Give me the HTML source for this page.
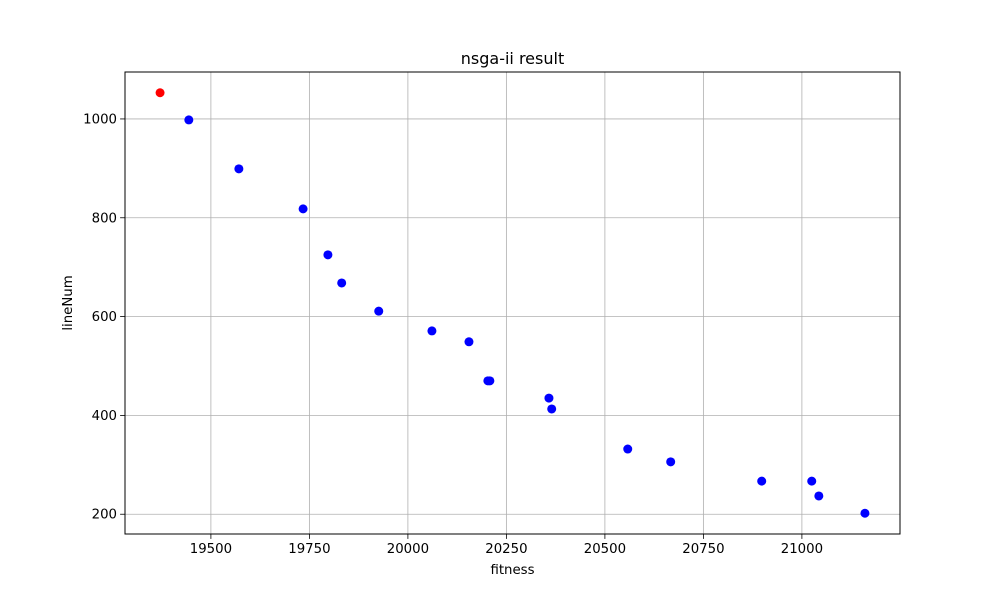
<!DOCTYPE html>
<html><head><meta charset="utf-8"><style>
body{margin:0;background:#fff;}
svg{display:block;font-family:"DejaVu Sans","Liberation Sans",sans-serif;}
</style></head><body>
<svg id="chart" width="1000" height="600">
<rect width="1000" height="600" fill="#fff"/>
<g id="grid"></g>
<g id="points"></g>
<rect x="125" y="72" width="775" height="462" fill="none" stroke="#000" stroke-width="1"/>
<g id="ticks"></g>
<text x="512.5" y="64" text-anchor="middle" font-size="16">nsga-ii result</text>
<text x="512.5" y="574" text-anchor="middle" font-size="13.3">fitness</text>
<text transform="translate(72,303) rotate(-90)" text-anchor="middle" font-size="13.3">lineNum</text>
</svg>
<script>
const xTicks=[19500,19750,20000,20250,20500,20750,21000];
const yTicks=[200,400,600,800,1000];
const fitness=[19371,19444,19571,19734,19797,19832,19926,20061,20155,20203,20208,20358,20365,20558,20667,20898,21025,21043,21160];
const lineNum=[1053,998,899,818,725,668,611,571,549,470,470,435,413,332,306,267,267,237,202];
const highlight=[true,false,false,false,false,false,false,false,false,false,false,false,false,false,false,false,false,false,false];
const NS="http://www.w3.org/2000/svg";
const X0=125,X1=900,Y0=534,Y1=72,xmin=19282,xmax=21249,ymin=160,ymax=1095;
function sx(v){return X0+(v-xmin)/(xmax-xmin)*(X1-X0);}
function sy(v){return Y0-(v-ymin)/(ymax-ymin)*(Y0-Y1);}
function mk(t,a,p){const e=document.createElementNS(NS,t);for(const k in a)e.setAttribute(k,a[k]);p.appendChild(e);return e;}
const grid=document.getElementById('grid'),ticks=document.getElementById('ticks'),pts=document.getElementById('points');
xTicks.forEach(v=>{const x=sx(v);
 let g=mk('line',{x1:x,x2:x,y1:Y1,y2:Y0,stroke:'#b0b0b0','stroke-width':0.8},grid);
 
 
 let t=mk('line',{x1:x,x2:x,y1:Y0,y2:Y0+4.9,stroke:'#000','stroke-width':0.8},ticks);
 
 
 let l=mk('text',{x:x,y:Y0+19,'text-anchor':'middle','font-size':'13.3'},ticks);l.textContent=v;
 
 
});
yTicks.forEach(v=>{const y=sy(v);
 let g=mk('line',{x1:X0,x2:X1,y1:y,y2:y,stroke:'#b0b0b0','stroke-width':0.8},grid);
 
 
 let t=mk('line',{x1:X0-4.9,x2:X0,y1:y,y2:y,stroke:'#000','stroke-width':0.8},ticks);
 
 
 let l=mk('text',{x:X0-8,y:y+4.5,'text-anchor':'end','font-size':'13.3'},ticks);l.textContent=v;
 
 
});
fitness.forEach((v,i)=>{
 let c=mk('circle',{cx:sx(v),cy:sy(lineNum[i]),r:4.5,fill:highlight[i]?'#ff0000':'#0000ff'},pts);
 
 
});
</script>
</body></html>
